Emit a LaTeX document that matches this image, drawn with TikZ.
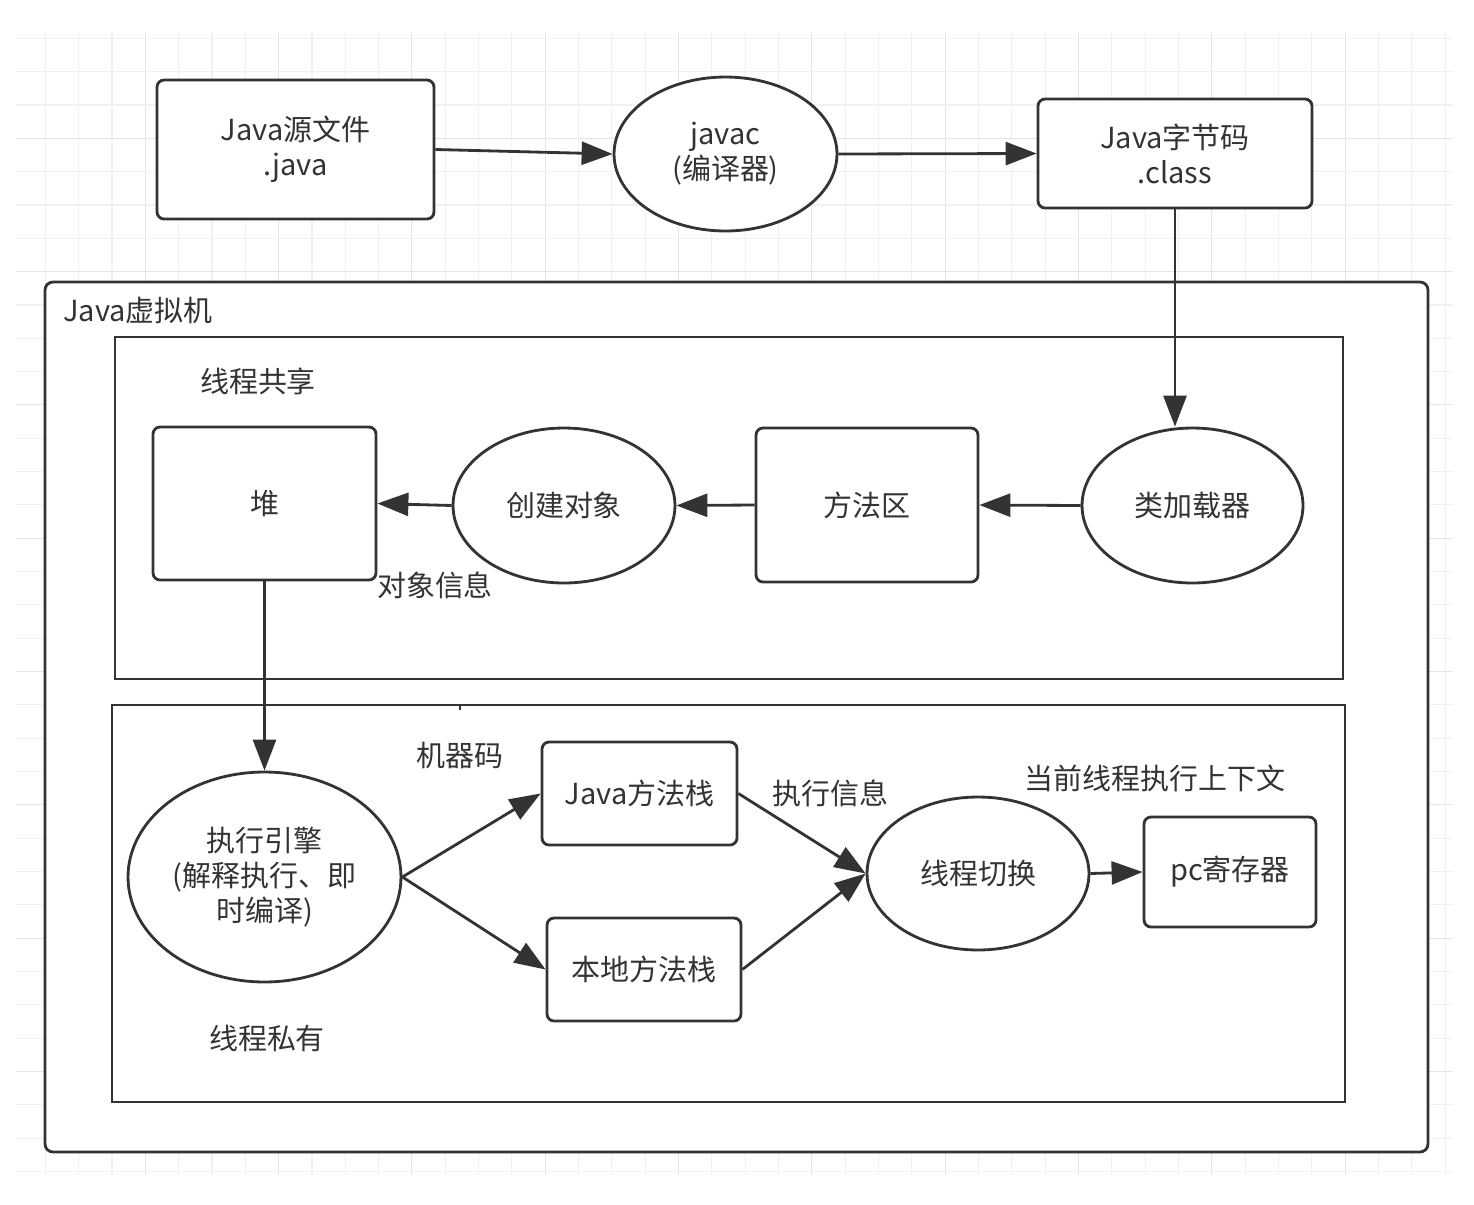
\documentclass[tikz,border=0pt]{standalone}
\usepackage{fontspec}
\setmainfont{Noto Sans CJK SC}
\usetikzlibrary{arrows.meta, shapes.geometric}
\definecolor{ink}{HTML}{333333}
\definecolor{gridfine}{HTML}{F1F1F1}
\definecolor{gridbold}{HTML}{E4E4E4}

\begin{document}
\begin{tikzpicture}[x=0.02cm, y=-0.02cm,
    >={Triangle[length=0.62cm,width=0.46cm]},
    every node/.style={font=\fontsize{16.5}{20}\selectfont, text=ink, align=center},
    box/.style={draw=ink, line width=1.6pt, rounded corners=0.14cm, fill=white, inner sep=0pt},
    oval/.style={ellipse, draw=ink, line width=1.6pt, fill=white, inner sep=0pt},
    flow/.style={->, draw=ink, line width=1.6pt},
    frame/.style={draw=ink, line width=1.6pt},
    thin grid/.style={gridfine, line width=0.6pt},
    bold grid/.style={gridbold, line width=0.6pt}
  ]
  \useasboundingbox (0,0) rectangle (1474,1204);

  % background grid
  \foreach \k in {1,...,43} {
    \pgfmathtruncatemacro{\m}{mod(\k,4)}
    \ifnum\m=0 \draw[bold grid] (12+33.33*\k,32) -- (12+33.33*\k,1175);
    \else \draw[thin grid] (12+33.33*\k,32) -- (12+33.33*\k,1175); \fi
  }
  \foreach \k in {1,...,35} {
    \pgfmathtruncatemacro{\m}{mod(\k,4)}
    \ifnum\m=0 \draw[bold grid] (16,5+33.33*\k) -- (1452,5+33.33*\k);
    \else \draw[thin grid] (16,5+33.33*\k) -- (1452,5+33.33*\k); \fi
  }

  % virtual machine and its two areas
  \draw[frame, fill=white, rounded corners=0.16cm] (45,282) rectangle (1428,1152);
  \draw[frame] (115,337) rectangle (1343,679);
  \draw[frame] (112,705) rectangle (1345,1102);
  \draw[frame, line width=1.2pt] (460,705) -- (460,710);

  \node (jvm)     at (138,310)  {Java虚拟机};
  \node (shared)  at (258,381)  {线程共享};
  \node (private) at (267,1038) {线程私有};

  % compile chain
  \node[box, minimum width=5.54cm, minimum height=2.78cm] (src) at (295.5,149.5) {Java源文件\\.java};
  \node[oval, minimum width=4.46cm, minimum height=3.08cm] (javac) at (725.5,154) {javac\\(编译器)};
  \node[box, minimum width=5.48cm, minimum height=2.18cm] (cls) at (1175,153.5) {Java字节码\\.class};

  % shared area
  \node[oval, minimum width=4.42cm, minimum height=3.1cm] (loader) at (1192.5,505.5) {类加载器};
  \node[box, minimum width=4.44cm, minimum height=3.08cm] (method) at (867,505) {方法区};
  \node[oval, minimum width=4.44cm, minimum height=3.1cm] (create) at (564,505.5) {创建对象};
  \node[box, minimum width=4.46cm, minimum height=3.06cm] (heap) at (264.5,503.5) {堆};
  \node (objinfo) at (435,585) {对象信息};

  % private area
  \node[oval, minimum width=5.46cm, minimum height=4.2cm] (engine) at (264.5,877) {执行引擎\\(解释执行、即\\时编译)};
  \node[box, minimum width=3.9cm, minimum height=2.06cm] (jstack) at (639.5,793.5) {Java方法栈};
  \node[box, minimum width=3.88cm, minimum height=2.06cm] (nstack) at (644,969.5) {本地方法栈};
  \node[oval, minimum width=4.44cm, minimum height=3.06cm] (switch) at (978,873.5) {线程切换};
  \node[box, minimum width=3.44cm, minimum height=2.2cm] (pc) at (1230,872) {pc寄存器};
  \node (machine) at (460,755)  {机器码};
  \node (execinfo) at (830,793) {执行信息};
  \node (context) at (1155,778) {当前线程执行上下文};

  \draw[flow] (src.east) -- (javac.west);
  \draw[flow] (javac.east) -- (cls.west);
  \draw[flow] (cls.south) -- (loader.north -| cls.south);
  \draw[flow] (loader.west) -- (method.east);
  \draw[flow] (method.west) -- (create.east);
  \draw[flow] (create.west) -- (heap.east);
  \draw[flow] (heap.south) -- (engine.north);
  \draw[flow] (engine.east) -- (jstack.west);
  \draw[flow] (engine.east) -- (nstack.west);
  \draw[flow] (jstack.east) -- (switch.west);
  \draw[flow] (nstack.east) -- (switch.west);
  \draw[flow] (switch.east) -- (pc.west);
\end{tikzpicture}
\end{document}
